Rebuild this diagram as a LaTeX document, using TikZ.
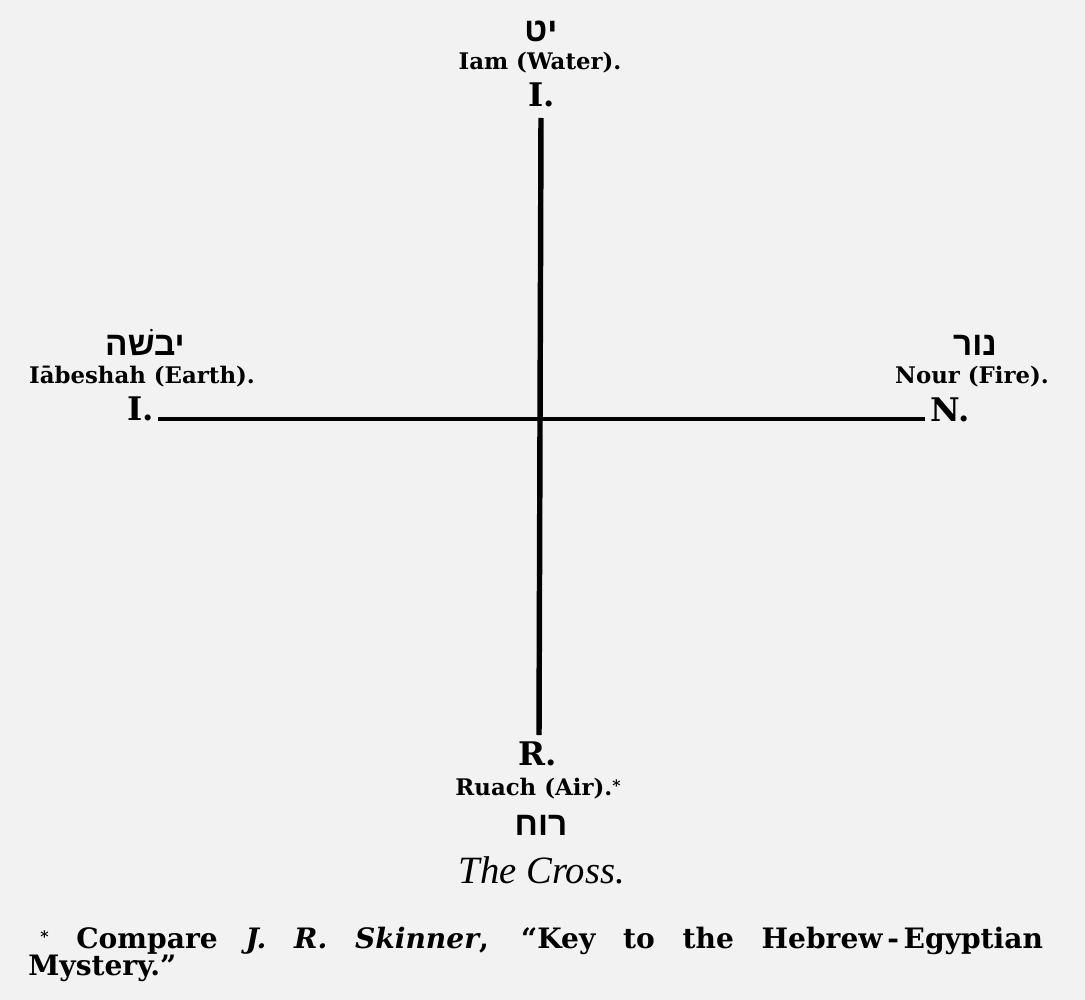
\documentclass[tikz,border=0pt]{standalone}
\usepackage{fontspec}
\setmainfont{DejaVu Serif}
\newfontfamily\hebfont[Script=Hebrew]{Liberation Sans}
\newfontfamily\crossfont{Liberation Serif}
\TeXXeTstate=1
\definecolor{paper}{HTML}{F2F2F2}

\begin{document}
\begin{tikzpicture}[x=.02cm,y=-.02cm,line width=.35pt,
  letter/.style={anchor=base,inner sep=0pt,font=\bfseries\fontsize{18.5}{22}\selectfont},
  elem/.style={anchor=base,inner sep=0pt,font=\bfseries\fontsize{13}{16}\selectfont},
  heb/.style={anchor=base,inner sep=0pt,font=\hebfont\bfseries\fontsize{19}{22}\selectfont},
  note/.style={anchor=base west,inner sep=0pt,font=\bfseries\fontsize{16}{19}\selectfont},
  arm/.style={line width=2.7pt}]
\fill[paper] (0,0) rectangle (1085,1000);
\coordinate (armT) at (541,118);
\coordinate (armB) at (539,735);
\coordinate (armL) at (158,419);
\coordinate (armR) at (925,419);
\draw[arm,line width=3.1pt] (armT)--(armB);
\draw[arm] (armL)--(armR);
% water
\node[heb] (hebT) at (541,42) {\beginR יט\endR};
\node[elem] (nameT) at (540,70) {Iam (Water).};
\node[letter] (letT) at (542,107) {I.};
% earth
\node[heb] (hebL) at (145,355) {\beginR יבשׁה\endR};
\node[elem] (nameL) at (142,383) {Iābeshah (Earth).};
\node[letter] (letL) at (141,420) {I.};
% fire
\node[heb] (hebR) at (975,355) {\beginR נור\endR};
\node[elem] (nameR) at (972,383) {Nour (Fire).};
\node[letter] (letR) at (950,421) {N.};
% air
\node[letter] (letB) at (538,765) {R.};
\node[elem] (nameB) at (538,795) {Ruach (Air).\raisebox{.3ex}{\small*}};
\node[heb] (hebB) at (541,835) {\beginR רוח\endR};
\node[anchor=base,inner sep=0pt,font=\crossfont\itshape\fontsize{22}{26}\selectfont] (title) at (542,883) {The Cross.};
% footnote
\node[note] (noteA) at (40,948)
  {\makebox[20.06cm][s]{\raisebox{.4ex}{\small*} Compare \textit{J. R. Skinner}, “Key to the Hebrew\,-\,Egyptian}};
\node[note] (noteB) at (28,975) {Mystery.”};
\end{tikzpicture}
\end{document}
